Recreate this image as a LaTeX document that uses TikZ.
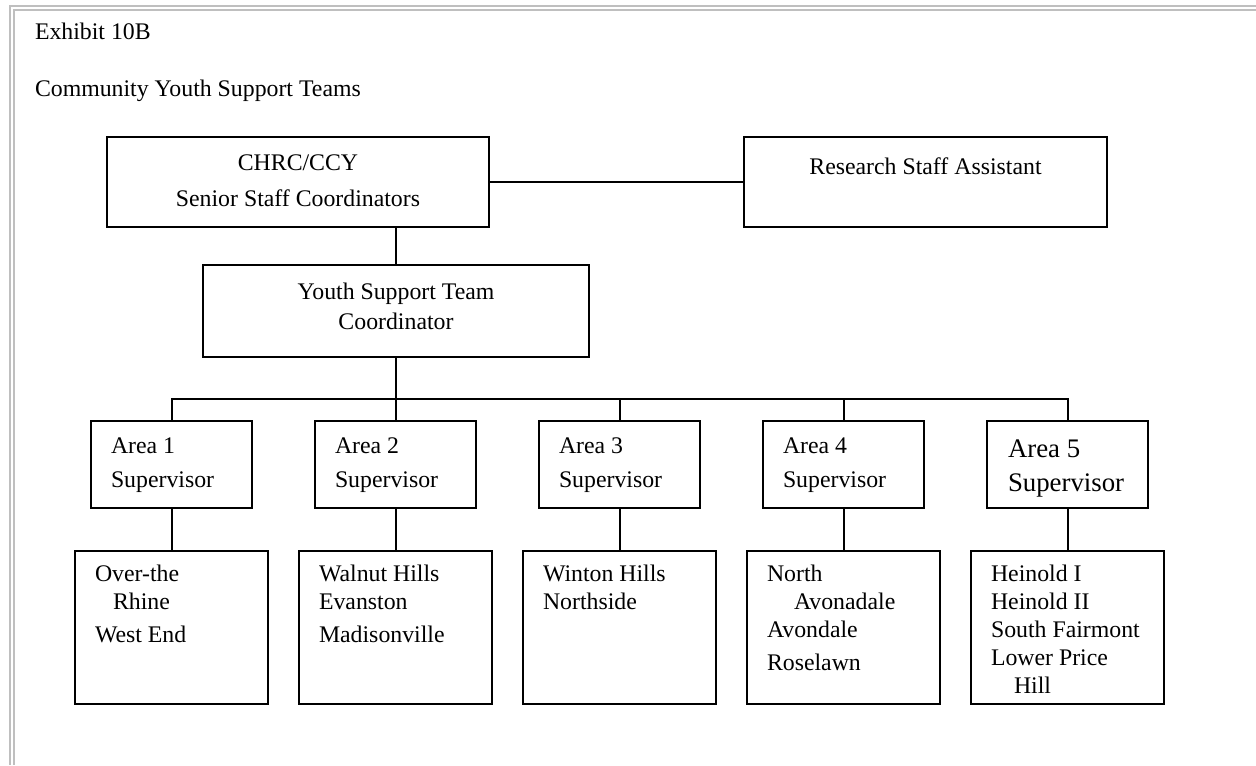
\documentclass[tikz,border=0pt]{standalone}
\usepackage{fontspec}
\setmainfont{Liberation Serif}
\usetikzlibrary{positioning}

\tikzset{
  orgbox/.style={draw, line width=1pt, inner sep=0pt, outer sep=0pt},
  conn/.style={line width=1pt},
  toplbl/.style={inner sep=0pt, outer sep=0pt, align=center, font=\fontsize{11.9}{18}\selectfont},
  lbl/.style={inner sep=0pt, outer sep=0pt, align=left, font=\fontsize{11.9}{14}\selectfont},
  pageframe/.style={draw=black!25, line width=1pt},
}

\begin{document}
\begin{tikzpicture}[x=0.5pt,y=-0.5pt]
  \useasboundingbox (0,0) rectangle (1256,765);
  % page frame
  \draw[pageframe] (1256,6) -| (10,765);
  \draw[pageframe] (1256,10) -| (14,765);

  \node[lbl, anchor=base west] (exhibit) at (35,40) {Exhibit 10B};
  \node[lbl, anchor=base west] (title) at (35,97) {Community Youth Support Teams};

  % top of the chart
  \node[orgbox, minimum width=191pt, minimum height=45pt] (chrc) at (298,182) {};
  \node[orgbox, minimum width=181.5pt, minimum height=45pt] (rsa) at (925.5,182) {};
  \node[orgbox, minimum width=193pt, minimum height=46pt] (yst) at (396,311) {};
  \node[toplbl, below=9pt of chrc.north] (chrcT) {CHRC/CCY\\Senior Staff Coordinators};
  \node[toplbl, below=10.5pt of rsa.north] (rsaT) {Research Staff Assistant};
  \node[toplbl, below=9pt of yst.north, font=\fontsize{11.9}{15}\selectfont] (ystT) {Youth Support Team\\Coordinator};

  \draw[conn] (chrc.east) -- (rsa.west);
  \draw[conn] (yst.north) -- (yst.north |- chrc.south);

  % areas and their neighbourhoods
  \foreach \i/\x in {1/171.5,2/395.5,3/619.5,4/843.5,5/1067.5}{
    \node[orgbox, minimum width=80.5pt, minimum height=43.5pt] (a\i) at (\x,464.5) {};
    \node[orgbox, minimum width=96.5pt, minimum height=76.5pt] (b\i) at (\x,627.5) {};
    \draw[conn] (a\i.south) -- (b\i.north);
  }

  \coordinate (bar) at (0,399);
  \draw[conn] (yst.south) -- (yst.south |- bar);
  \draw[conn] (a1.north) |- (bar -| a5.north) -- (a5.north);
  \foreach \i in {2,3,4}
    \draw[conn] (a\i.north) -- (a\i.north |- bar);

  \foreach \i in {1,2,3,4}
    \node[lbl, below right=8.5pt and 10pt of a\i.north west, font=\fontsize{11.9}{17}\selectfont] (a\i T) {Area \i\\Supervisor};
  \node[lbl, below right=9.5pt and 10.5pt of a5.north west, font=\fontsize{13.4}{17}\selectfont] (a5T) {Area 5\\Supervisor};

  \node[lbl, below right=7pt and 10pt of b1.north west] (b1T) {Over-the\\\hspace*{9pt}Rhine\\[2.5pt]West End};
  \node[lbl, below right=7pt and 10pt of b2.north west] (b2T) {Walnut Hills\\Evanston\\[2.5pt]Madisonville};
  \node[lbl, below right=7pt and 10pt of b3.north west] (b3T) {Winton Hills\\Northside};
  \node[lbl, below right=7pt and 10pt of b4.north west] (b4T) {North\\\hspace*{13.5pt}Avonadale\\Avondale\\[2.5pt]Roselawn};
  \node[lbl, below right=7pt and 10pt of b5.north west] (b5T) {Heinold I\\Heinold II\\South Fairmont\\Lower Price\\\hspace*{11.5pt}Hill};
\end{tikzpicture}
\end{document}
